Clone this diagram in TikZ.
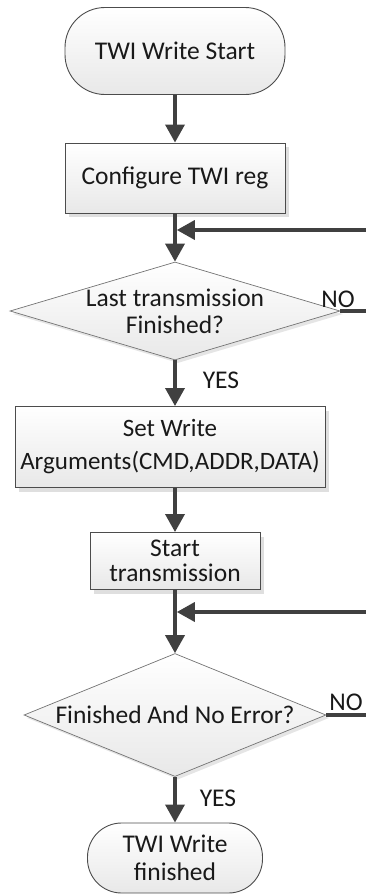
\documentclass[tikz,border=0pt]{standalone}
\usepackage{fontspec}
\setmainfont{Carlito}
\usetikzlibrary{shapes.geometric,arrows.meta,shadows}

\tikzset{
  base/.style={draw=black!70,line width=0.9pt,top color=white,bottom color=black!9,
    text=black!90,font=\fontsize{25.5}{27}\selectfont,align=center,inner sep=0pt},
  terminal/.style={base,rectangle,rounded corners=#1},
  process/.style={base,rectangle,drop shadow={shadow xshift=4pt,shadow yshift=-4pt,fill=black!25,opacity=0.5}},
  decision/.style={base,diamond,draw=black!55,line width=0.7pt,
    drop shadow={shadow xshift=3pt,shadow yshift=-3pt,fill=black!20,opacity=0.5}},
  flow/.style={draw=black!75,line width=3.5pt,-{Triangle[width=19pt,length=18pt]}},
  link/.style={draw=black!75,line width=3.5pt},
  tag/.style={font=\fontsize{25.5}{27}\selectfont,text=black!90,inner sep=0pt}
}

\begin{document}
\begin{tikzpicture}[x=1pt,y=-1pt]
\useasboundingbox (0,0) rectangle (366,895);

% boxes
\node[terminal=40pt,minimum width=220pt,minimum height=87pt] (start) at (175,51) {TWI Write Start};
\node[process,minimum width=220pt,minimum height=70pt] (cfg) at (175,178) {Configure TWI reg};
\node[decision,minimum width=330pt,minimum height=98pt,
  label={[tag,align=center]center:Last transmission\\Finished?}] (last) at (175,311) {};
\node[process,minimum width=310pt,minimum height=81pt,font=\fontsize{25}{33}\selectfont] (args) at (170,447) {Set Write\\Arguments(CMD,ADDR,DATA)};
\node[process,minimum width=170pt,minimum height=57pt,font=\fontsize{25.5}{25}\selectfont] (stx) at (175,561) {Start\\transmission};
\node[decision,minimum width=302pt,minimum height=123pt,
  label={[tag]center:Finished And No Error?}] (check) at (175,715) {};
\node[terminal=34pt,minimum width=175pt,minimum height=70pt,font=\fontsize{25.5}{28}\selectfont] (done) at (175,858) {TWI Write\\finished};

% loop ends
\coordinate (back1) at (366,230);
\coordinate (back2) at (366,612);

% connectors
\draw[flow] (start) -- (cfg);
\draw[flow] (cfg) -- (last);
\draw[flow] (last.south) -- (last.south |- args.north);
\draw[flow] (args.south -| stx.north) -- (stx.north);
\draw[flow] (stx) -- (check);
\draw[flow] (check) -- (done);
\draw[flow,shorten >=1.8pt] (back1) -- (back1 -| cfg.south);
\draw[flow,shorten >=1.8pt] (back2) -- (back2 -| stx.south);
\draw[link] (last.east) -- (last.east -| back1);
\draw[link] (check.east) -- (check.east -| back2);

% branch labels
\node[tag] (no1) at (338,299) {NO};
\node[tag] (yes1) at (221,380) {YES};
\node[tag] (no2) at (346,702) {NO};
\node[tag] (yes2) at (218,798) {YES};
\end{tikzpicture}
\end{document}
